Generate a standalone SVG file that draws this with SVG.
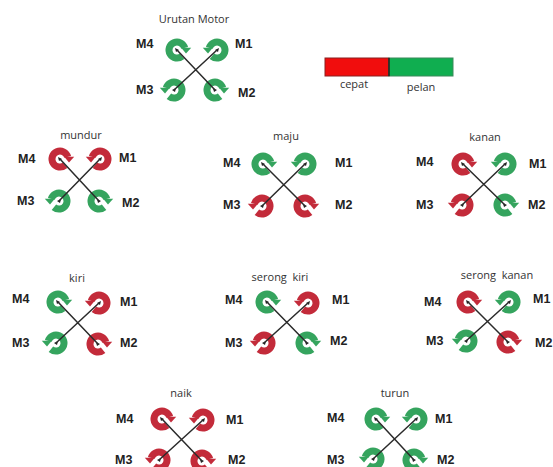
<svg xmlns="http://www.w3.org/2000/svg" width="553" height="467" viewBox="0 0 553 467">
<style>
.g{color:#35a45e}
.r{color:#c32b3a}
.m{font:bold 12.5px "Liberation Sans",Arial,sans-serif;fill:#222}
.t{font:11px "Open Sans","Noto Sans",sans-serif;fill:#333;text-anchor:middle;white-space:pre}
.x{stroke:#2b2b2b;stroke-width:1.5;fill:none}
</style>
<defs>
<g id="cw"><path d="M5.1 6.2A8 8 0 1 1 7.7 -2.1" fill="none" stroke="currentColor" stroke-width="7"/><path d="M4.2 -2.2H14.2L9 3.6Z" fill="currentColor"/><path d="M-2 -2L2 0L-1 2Z" fill="#222"/></g>
<g id="ccw"><path d="M-5.1 6.2A8 8 0 1 0 -7.7 -2.1" fill="none" stroke="currentColor" stroke-width="7"/><path d="M-4.2 -2.2H-14.2L-9 3.6Z" fill="currentColor"/><path d="M2 -2L-2 0L1 2Z" fill="#222"/></g>
</defs>
<rect width="553" height="467" fill="#fff"/>

<g id="urutan-motor">
<text class="t" x="194" y="23">Urutan Motor</text>
<use href="#cw" x="177" y="50" class="g"/><use href="#ccw" x="217" y="50" class="g"/><use href="#ccw" x="174" y="90" class="g"/><use href="#cw" x="215" y="90" class="g"/>
<text class="m" x="136" y="48">M4</text><text class="m" x="235" y="48">M1</text><text class="m" x="136" y="94">M3</text><text class="m" x="238" y="97">M2</text>
</g>

<g id="legend">
<rect x="325" y="58" width="64" height="18" fill="#f10d0d" stroke="#8a2020"/>
<rect x="389" y="58" width="64" height="18" fill="#10ae50" stroke="#3a8a5a"/>
<path d="M389 58V76" stroke="#222" stroke-width="1.5"/>
<text class="t" x="354" y="88">cepat</text><text class="t" x="421" y="91">pelan</text>
</g>

<g id="mundur">
<text class="t" x="81" y="139">mundur</text>
<use href="#cw" x="60" y="159" class="r"/><use href="#ccw" x="100" y="159" class="r"/><use href="#ccw" x="59" y="201" class="g"/><use href="#cw" x="99" y="201" class="g"/>
<text class="m" x="18" y="163">M4</text><text class="m" x="119" y="162">M1</text><text class="m" x="17" y="205">M3</text><text class="m" x="122" y="207">M2</text>
</g>

<g id="maju">
<text class="t" x="286" y="140">maju</text>
<use href="#cw" x="263" y="164" class="g"/><use href="#ccw" x="305" y="164" class="g"/><use href="#ccw" x="262" y="206" class="r"/><use href="#cw" x="305" y="206" class="r"/>
<text class="m" x="223" y="167">M4</text><text class="m" x="335" y="167">M1</text><text class="m" x="223" y="209">M3</text><text class="m" x="335" y="209">M2</text>
</g>

<g id="kanan">
<text class="t" x="485" y="141">kanan</text>
<use href="#cw" x="463" y="164" class="r"/><use href="#ccw" x="505" y="164" class="g"/><use href="#ccw" x="462" y="205" class="r"/><use href="#cw" x="505" y="205" class="g"/>
<text class="m" x="416" y="166">M4</text><text class="m" x="529" y="168">M1</text><text class="m" x="416" y="209">M3</text><text class="m" x="528" y="209">M2</text>
</g>

<g id="kiri">
<text class="t" x="77" y="282">kiri</text>
<use href="#cw" x="58" y="302" class="g"/><use href="#ccw" x="99" y="303" class="r"/><use href="#ccw" x="56" y="343" class="g"/><use href="#cw" x="98" y="344" class="r"/>
<text class="m" x="12" y="303">M4</text><text class="m" x="120" y="306">M1</text><text class="m" x="12" y="347">M3</text><text class="m" x="120" y="347">M2</text>
</g>

<g id="serong-kiri">
<text class="t" x="280" y="281">serong  kiri</text>
<use href="#cw" x="267" y="302" class="g"/><use href="#ccw" x="308" y="303" class="r"/><use href="#ccw" x="264" y="343" class="r"/><use href="#cw" x="307" y="343" class="g"/>
<text class="m" x="225" y="304">M4</text><text class="m" x="332" y="304">M1</text><text class="m" x="225" y="347">M3</text><text class="m" x="330" y="345">M2</text>
</g>

<g id="serong-kanan">
<text class="t" x="497" y="279">serong  kanan</text>
<use href="#cw" x="468" y="302" class="r"/><use href="#ccw" x="509" y="302" class="g"/><use href="#ccw" x="466" y="341" class="g"/><use href="#cw" x="508" y="342" class="r"/>
<text class="m" x="424" y="306">M4</text><text class="m" x="533" y="303">M1</text><text class="m" x="426" y="345">M3</text><text class="m" x="535" y="347">M2</text>
</g>

<g id="naik">
<text class="t" x="181" y="397">naik</text>
<use href="#cw" x="162" y="419" class="r"/><use href="#ccw" x="203" y="420" class="r"/><use href="#ccw" x="159" y="460" class="r"/><use href="#cw" x="202" y="461" class="r"/>
<text class="m" x="116" y="423">M4</text><text class="m" x="226" y="424">M1</text><text class="m" x="115" y="464">M3</text><text class="m" x="228" y="464">M2</text>
</g>

<g id="turun">
<text class="t" x="395" y="397">turun</text>
<use href="#cw" x="376" y="419" class="g"/><use href="#ccw" x="416" y="419" class="g"/><use href="#ccw" x="373" y="459" class="g"/><use href="#cw" x="414" y="460" class="g"/>
<text class="m" x="327" y="422">M4</text><text class="m" x="435" y="423">M1</text><text class="m" x="327" y="464">M3</text><text class="m" x="437" y="464">M2</text>
</g>

<g id="connectors" class="x">
<path d="M177 50L215 90M217 50L174 90"/>
<path d="M60 159L99 201M100 159L59 201"/>
<path d="M263 164L305 206M305 164L262 206"/>
<path d="M463 164L505 205M505 164L462 205"/>
<path d="M58 302L98 344M99 303L56 343"/>
<path d="M267 302L307 343M308 303L264 343"/>
<path d="M468 302L508 342M509 302L466 341"/>
<path d="M162 419L202 461M203 420L159 460"/>
<path d="M376 419L414 460M416 419L373 459"/>
</g>
</svg>
